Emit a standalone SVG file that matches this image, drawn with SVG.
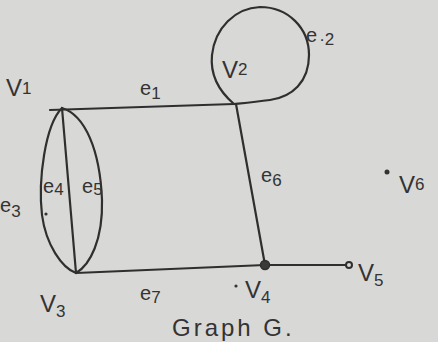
<svg xmlns="http://www.w3.org/2000/svg" width="438" height="342" viewBox="0 0 438 342">
<style>
.ink{fill:none;stroke:#2f2f2f;stroke-width:2.2;stroke-linecap:round;stroke-linejoin:round}
.lbl{font-family:"Liberation Sans",Arial,sans-serif;font-size:24px;fill:#333}
.sub{font-size:17px}
.sm{font-family:"Liberation Sans",Arial,sans-serif;font-size:20px;fill:#333}
</style>
<rect width="438" height="342" fill="#d8d8d6"/>
<g id="connectors">
  <path id="e1" class="ink" d="M50,110 L234,104"/>
  <path id="e2" class="ink" d="M234,104 C220,92 210,75 212,55 C215,28 235,8 260,7 C288,7 309,28 309,55 C309,82 292,97 270,100 C255,102 244,103 234,104"/>
  <path id="e3" class="ink" d="M62,108 C45,125 38,180 42,215 C46,245 62,268 76,273"/>
  <path id="e4" class="ink" d="M62,108 L76,273"/>
  <path id="e5" class="ink" d="M62,108 C85,115 100,150 102,200 C103,240 90,265 76,273"/>
  <path id="e6" class="ink" d="M236,104 L265,265"/>
  <path id="e7" class="ink" d="M76,273 L265,265"/>
  <path id="e8" class="ink" d="M265,265 L346,265"/>
  <text class="sm" x="140" y="95">e<tspan class="sub" dy="4">1</tspan></text>
  <text class="sm" x="306" y="42">e<tspan class="sub" dx="2" dy="3">·2</tspan></text>
  <text class="sm" x="0" y="212">e<tspan class="sub" dy="5">3</tspan></text>
  <text class="sm" x="43" y="193">e<tspan class="sub" dy="2">4</tspan></text>
  <text class="sm" x="82" y="193">e<tspan class="sub" dy="2">5</tspan></text>
  <text class="sm" x="261" y="182">e<tspan class="sub" dy="4">6</tspan></text>
  <text class="sm" x="140" y="300">e<tspan class="sub" dy="3">7</tspan></text>
</g>
<g id="v1"><text class="lbl" x="6" y="96">V<tspan class="sub" dy="-2">1</tspan></text></g>
<g id="v2"><text class="lbl" x="222" y="78">V<tspan class="sub" dy="-3">2</tspan></text></g>
<g id="v3"><text class="lbl" x="40" y="312">V<tspan class="sub" dy="5">3</tspan></text></g>
<g id="v4">
  <circle cx="265" cy="265" r="4.5" fill="#3a3a3a" stroke="#2f2f2f" stroke-width="1.5"/>
  <circle cx="236" cy="286" r="1.6" fill="#333"/>
  <text class="lbl" x="245" y="298">V<tspan class="sub" dy="5">4</tspan></text>
</g>
<g id="v5">
  <circle cx="349" cy="265" r="3" fill="none" stroke="#2f2f2f" stroke-width="2"/>
  <text class="lbl" x="358" y="281">V<tspan class="sub" dy="5">5</tspan></text>
</g>
<g id="v6">
  <circle cx="387" cy="172" r="2.5" fill="#333"/>
  <text class="lbl" x="399" y="193">V<tspan class="sub" dy="-3">6</tspan></text>
</g>
<circle cx="46" cy="214" r="1.6" fill="#333"/>
<text class="lbl" x="172" y="336" font-size="27" letter-spacing="3">Graph G.</text>
</svg>
